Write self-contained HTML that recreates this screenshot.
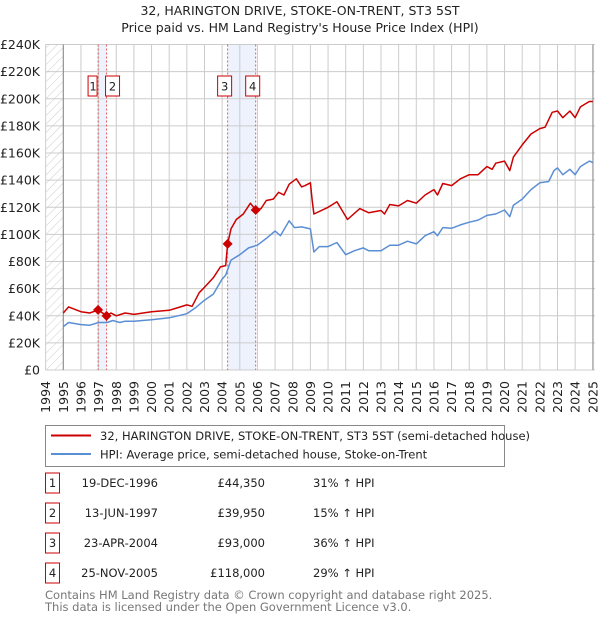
<!DOCTYPE html>
<html><head><meta charset="utf-8">
<style>
body{margin:0;background:#fff;font-family:"DejaVu Sans","Liberation Sans",sans-serif;}
svg text{font-family:"DejaVu Sans","Liberation Sans",sans-serif;}
</style></head>
<body>
<svg id="chart" width="600" height="620" viewBox="0 0 600 620" xmlns="http://www.w3.org/2000/svg">
<defs>
<pattern id="hatch" width="6" height="6" patternUnits="userSpaceOnUse" patternTransform="rotate(45)">
<line x1="0" y1="0" x2="0" y2="6" stroke="#ccc" stroke-width="1"/>
</pattern>
</defs>
<text x="300" y="15" text-anchor="middle" font-size="12.5" fill="#222">32, HARINGTON DRIVE, STOKE-ON-TRENT, ST3 5ST</text>
<text x="300" y="32" text-anchor="middle" font-size="12.5" fill="#222">Price paid vs. HM Land Registry's House Price Index (HPI)</text>
<g id="plot"></g>
<g>
<rect x="45.5" y="425.5" width="459" height="41" fill="#fff" stroke="#888"/>
<line x1="51" y1="435.5" x2="91" y2="435.5" stroke="#cc0000" stroke-width="2"/>
<text x="100" y="440" font-size="11.5" fill="#222">32, HARINGTON DRIVE, STOKE-ON-TRENT, ST3 5ST (semi-detached house)</text>
<line x1="51" y1="454" x2="91" y2="454" stroke="#5b8fd4" stroke-width="2"/>
<text x="100" y="458.5" font-size="11.5" fill="#222">HPI: Average price, semi-detached house, Stoke-on-Trent</text>
</g>
<g id="table" font-size="11.5" fill="#222"></g>
<text x="45" y="599" font-size="11.5" fill="#777">Contains HM Land Registry data © Crown copyright and database right 2025.</text>
<text x="45" y="611" font-size="11.5" fill="#777">This data is licensed under the Open Government Licence v3.0.</text>
</svg>
<script>
const redYears=[1995,1995.3,1996,1996.5,1996.97,1997.45,1997.7,1998,1998.5,1999,2000,2001,2001.5,2002,2002.3,2002.7,2003,2003.5,2003.9,2004.2,2004.31,2004.5,2004.8,2005.2,2005.6,2005.9,2006.2,2006.5,2006.9,2007.2,2007.5,2007.8,2008.2,2008.5,2008.7,2009,2009.1,2009.2,2010,2010.5,2011.1,2011.8,2012.3,2013,2013.2,2013.5,2014,2014.5,2015,2015.5,2016,2016.2,2016.5,2017,2017.5,2018,2018.5,2019,2019.3,2019.5,2020,2020.3,2020.5,2021,2021.5,2022,2022.3,2022.7,2023,2023.3,2023.7,2024,2024.3,2024.8,2025];
const redValues=[42,46.5,43,42,44.35,39.95,42,40,42,41,43,44,46,48,47,57,61,68,76,77,93,104,111,115,123,118,119,125,126,131,129,137,141,135,136,138,125,115,120,124,111,119,116,117.6,115,122,121,125,123,129,133,129,137.5,136,141,144,144,150,148,152.5,154,147,157,166,174,178,179,190,191,186,191,186,194,198,198];
const hpiYears=[1995,1995.3,1996,1996.5,1997,1997.5,1997.8,1998.2,1998.5,1999,2000,2001,2001.5,2002,2002.5,2003,2003.5,2004,2004.2,2004.5,2005,2005.5,2006,2006.5,2007,2007.3,2007.8,2008.1,2008.5,2009,2009.2,2009.5,2010,2010.5,2011,2011.5,2012,2012.3,2013,2013.5,2014,2014.5,2015,2015.5,2016,2016.2,2016.5,2017,2017.5,2018,2018.5,2019,2019.5,2020,2020.3,2020.5,2021,2021.5,2022,2022.5,2022.8,2023,2023.3,2023.7,2024,2024.3,2024.8,2025];
const hpiValues=[32,35,33.5,33,35,35,36.5,35,36,36,37,38.5,40,41.5,46,51.5,56,67,70,81,85,90,92,97,102.5,99,110,105,105.5,104,87,91,91,94,85,88,90,88,88,92,92,95,93,99,102,99,105,104.5,107,109,110.5,114,115,118,113,121.5,126,133,138,139,147,149,144,148,144,150,154,153];
const saleLabels=["1","2","3","4"];
const saleYears=[1996.97,1997.45,2004.31,2005.9];
const salePrices=[44.35,39.95,93,118];
const saleDates=["19-DEC-1996","13-JUN-1997","23-APR-2004","25-NOV-2005"];
const salePriceText=["£44,350","£39,950","£93,000","£118,000"];
const saleHpiText=["31% ↑ HPI","15% ↑ HPI","36% ↑ HPI","29% ↑ HPI"];
const yTicks=[0,20,40,60,80,100,120,140,160,180,200,220,240];
const yTickLabels=["£0","£20K","£40K","£60K","£80K","£100K","£120K","£140K","£160K","£180K","£200K","£220K","£240K"];
const xTicks=[1994,1995,1996,1997,1998,1999,2000,2001,2002,2003,2004,2005,2006,2007,2008,2009,2010,2011,2012,2013,2014,2015,2016,2017,2018,2019,2020,2021,2022,2023,2024,2025];

const NS="http://www.w3.org/2000/svg";
const L=45.5,R=595,T=44.5,B=370;
function xs(y){return 63.3+(y-1995)*17.65;}
function ys(v){return B-v*(B-T)/240;}
const g=document.getElementById('plot');
function mk(tag,attrs,parent){const e=document.createElementNS(NS,tag);for(const k in attrs)e.setAttribute(k,attrs[k]);(parent||g).appendChild(e);return e;}

let e;
e=mk('rect',{x:xs(saleYears[0]),y:T,width:xs(saleYears[1])-xs(saleYears[0]),height:B-T,fill:'#edf2fc'});


e=mk('rect',{x:xs(saleYears[2]),y:T,width:xs(saleYears[3])-xs(saleYears[2]),height:B-T,fill:'#edf2fc'});


e=mk('rect',{x:L,y:T,width:xs(1995)-L,height:B-T,fill:'url(#hatch)'});


yTicks.forEach((v,i)=>{
  const l=mk('line',{x1:L,x2:R,y1:ys(v),y2:ys(v),stroke:'#ccc','stroke-width':1});
  
  
  const t=mk('text',{x:40,y:ys(v)+4.5,'text-anchor':'end','font-size':12.5,fill:'#222'});
  t.textContent=yTickLabels[i];
  
  
});
xTicks.forEach(yr=>{
  const x=xs(yr);
  const l=mk('line',{x1:x,x2:x,y1:T,y2:B,stroke:'#ccc','stroke-width':1});
  
  
  const t=mk('text',{x:0,y:0,'text-anchor':'end','font-size':12.5,fill:'#222',transform:`translate(${x+4.5},381) rotate(-90)`});
  t.textContent=yr;
  
  
});
e=mk('line',{x1:xs(1995),x2:xs(1995),y1:T,y2:B,stroke:'#888'});


e=mk('line',{x1:R-2,x2:R-2,y1:T,y2:B,stroke:'#888'});


saleYears.forEach((yr,i)=>{
  const l=mk('line',{x1:xs(yr),x2:xs(yr),y1:T,y2:B,stroke:'#e06060','stroke-width':1,'stroke-dasharray':'2,2'});
  
  
});
function path(xsArr,vs){return xsArr.map((y,i)=>(i?'L':'M')+xs(y).toFixed(1)+','+ys(vs[i]).toFixed(1)).join('');}
e=mk('path',{d:path(hpiYears,hpiValues),fill:'none',stroke:'#5b8fd4','stroke-width':1.5,'stroke-linejoin':'round'});


e=mk('path',{d:path(redYears,redValues),fill:'none',stroke:'#cc0000','stroke-width':1.5,'stroke-linejoin':'round'});


const boxOffsets=[-10,-1,-10,-10];
saleYears.forEach((yr,i)=>{
  const x=xs(yr),y=ys(salePrices[i]);
  const d=mk('path',{d:`M${x},${y-5}L${x+5},${y}L${x},${y+5}L${x-5},${y}Z`,fill:'#cc0000'});
  
  
  const bx=x+boxOffsets[i];
  const r=mk('rect',{x:bx,y:76,width:i==0?9:14,height:20,fill:'#fff',stroke:'#cc0000'});
  
  
  const t=mk('text',{x:bx+(i==0?5:7),y:90.5,'text-anchor':'middle','font-size':11.5,fill:'#222'});
  t.textContent=saleLabels[i];
  
  
});
const tb=document.getElementById('table');
const rowY=[483,513,543,573];
saleLabels.forEach((lab,i)=>{
  const cy=rowY[i];
  const r=mk('rect',{x:45.5,y:cy-10,width:14,height:20,fill:'#fff',stroke:'#cc0000'},tb);
  
  
  const t0=mk('text',{x:52.5,y:cy+4,'text-anchor':'middle'},tb);t0.textContent=lab;
  
  
  const t1=mk('text',{x:158,y:cy+4,'text-anchor':'end'},tb);t1.textContent=saleDates[i];
  
  
  const t2=mk('text',{x:265,y:cy+4,'text-anchor':'end'},tb);t2.textContent=salePriceText[i];
  
  
  const t3=mk('text',{x:313,y:cy+4},tb);t3.textContent=saleHpiText[i];
  
  
});
</script>
</body></html>
